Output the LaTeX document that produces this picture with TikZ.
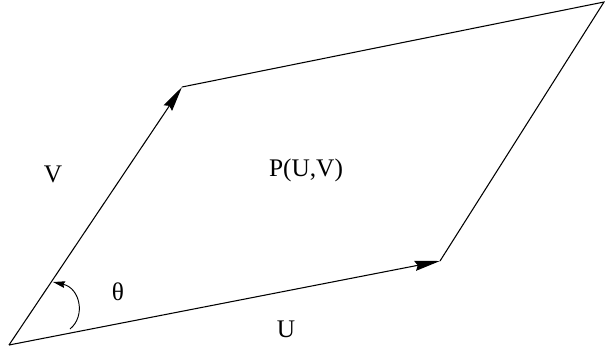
\documentclass[tikz,border=0pt]{standalone}
\usepackage{fontspec}
\setmainfont{Liberation Serif}
\usetikzlibrary{arrows.meta}
\tikzset{
  lado/.style={line width=0.8pt},
  vec/.style={line width=0.8pt, -{Stealth[length=19pt,width=7.5pt,inset=2pt]}},
  angulo/.style={line width=0.7pt, -{Stealth[length=9pt,width=5pt,inset=1pt]}},
  et/.style={font=\fontsize{19}{22}\selectfont, inner sep=0pt},
}
\begin{document}
\begin{tikzpicture}[x=0.75pt,y=-0.75pt]
  \useasboundingbox (0,0) rectangle (605,350);
  \coordinate (o) at (9,345);
  \coordinate (u) at (440,261);
  \coordinate (v) at (182,87);
  \coordinate (w) at (604,2);
  \coordinate (t0) at (70,329);
  \coordinate (t1) at (53,282);
  \draw[vec] (o) -- (u);
  \draw[vec] (o) -- (v);
  \draw[lado] (v) -- (w) -- (u);
  \draw[angulo] (t0) .. controls (86,316) and (80,288) .. (t1);
  \node[et] (lv) at (53,174) {V};
  \node[et] (lp) at (306,170) {P(U,V)};
  \node[et] (lu) at (286,329) {U};
  \node[et] (lt) at (118,292) {θ};
\end{tikzpicture}
\end{document}
